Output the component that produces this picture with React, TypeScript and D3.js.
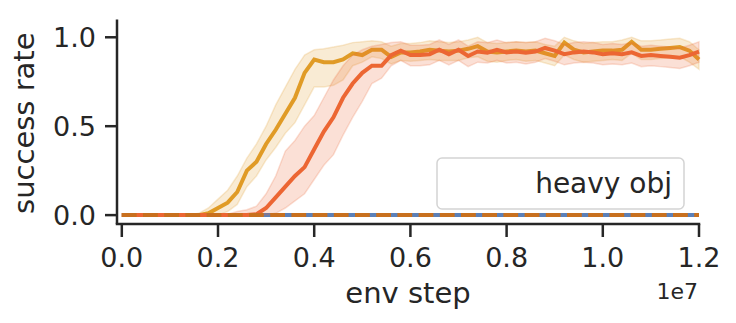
import React from "react";
import * as d3 from "d3";

// env steps in units of 1e6, one sample every 0.2e6
const steps = d3.range(61).map((i) => i * 0.2);

const goldMean = [
  0, 0, 0, 0, 0, 0, 0, 0, 0, 0.01, 0.04, 0.07, 0.13, 0.25, 0.3, 0.4, 0.48, 0.57, 0.66, 0.8,
  0.875, 0.86, 0.86, 0.875, 0.91, 0.9, 0.93, 0.93, 0.89, 0.915, 0.915, 0.92, 0.93, 0.925, 0.92, 0.925, 0.935, 0.95, 0.92, 0.915,
  0.92, 0.925, 0.92, 0.925, 0.91, 0.895, 0.97, 0.93, 0.915, 0.92, 0.925, 0.925, 0.93, 0.975, 0.93, 0.93, 0.935, 0.94, 0.945, 0.925,
  0.875,
];
const goldLo = [
  0, 0, 0, 0, 0, 0, 0, 0, 0, 0, 0, 0.02, 0.06, 0.16, 0.22, 0.31, 0.38, 0.46, 0.52, 0.62,
  0.72, 0.72, 0.73, 0.76, 0.84, 0.86, 0.89, 0.88, 0.85, 0.87, 0.865, 0.87, 0.875, 0.87, 0.87, 0.87, 0.885, 0.89, 0.865, 0.86,
  0.87, 0.875, 0.865, 0.87, 0.855, 0.84, 0.9, 0.875, 0.86, 0.865, 0.87, 0.875, 0.87, 0.91, 0.875, 0.875, 0.88, 0.885, 0.89, 0.86,
  0.82,
];
const goldHi = [
  0, 0, 0, 0, 0, 0, 0, 0, 0.01, 0.04, 0.09, 0.14, 0.22, 0.32, 0.4, 0.5, 0.62, 0.72, 0.82, 0.9,
  0.93, 0.935, 0.945, 0.955, 0.97, 0.975, 0.98, 0.975, 0.95, 0.965, 0.965, 0.97, 0.98, 0.975, 0.97, 0.975, 0.985, 1.0, 0.97, 0.965,
  0.97, 0.975, 0.97, 0.975, 0.96, 0.95, 1.0, 0.98, 0.965, 0.97, 0.975, 0.975, 0.985, 1.0, 0.98, 0.98, 0.985, 0.99, 0.995, 0.975,
  0.93,
];

const redMean = [
  0, 0, 0, 0, 0, 0, 0, 0, 0, 0, 0, 0, 0, 0, 0.005, 0.04, 0.1, 0.16, 0.22, 0.27,
  0.37, 0.47, 0.55, 0.66, 0.74, 0.8, 0.84, 0.84, 0.9, 0.925, 0.9, 0.9, 0.905, 0.93, 0.905, 0.93, 0.895, 0.92, 0.913, 0.93,
  0.915, 0.92, 0.913, 0.92, 0.94, 0.925, 0.905, 0.915, 0.92, 0.915, 0.905, 0.91, 0.905, 0.915, 0.895, 0.9, 0.895, 0.89, 0.885, 0.9,
  0.92,
];
const redLo = [
  0, 0, 0, 0, 0, 0, 0, 0, 0, 0, 0, 0, 0, 0, 0, 0, 0.01, 0.04, 0.08, 0.12,
  0.2, 0.28, 0.34, 0.45, 0.55, 0.64, 0.74, 0.77, 0.84, 0.87, 0.84, 0.84, 0.845, 0.87, 0.845, 0.87, 0.835, 0.86, 0.855, 0.87,
  0.855, 0.86, 0.85, 0.86, 0.88, 0.865, 0.845, 0.855, 0.86, 0.855, 0.845, 0.85, 0.845, 0.855, 0.835, 0.84, 0.835, 0.83, 0.825, 0.84,
  0.86,
];
const redHi = [
  0, 0, 0, 0, 0, 0, 0, 0, 0, 0, 0, 0.005, 0.02, 0.03, 0.05, 0.12, 0.22, 0.36, 0.42, 0.5,
  0.56, 0.66, 0.76, 0.84, 0.9, 0.93, 0.95, 0.96, 0.97, 0.975, 0.955, 0.955, 0.96, 0.985, 0.96, 0.985, 0.95, 0.975, 0.97, 0.985,
  0.97, 0.975, 0.97, 0.975, 0.995, 0.98, 0.96, 0.97, 0.975, 0.97, 0.96, 0.965, 0.96, 0.97, 0.95, 0.955, 0.95, 0.945, 0.94, 0.955,
  0.975,
];

// the two runs that never succeed
const blueMean = [
  0, 0, 0, 0, 0, 0, 0, 0, 0, 0, 0, 0, 0, 0, 0, 0, 0, 0, 0, 0, 0, 0, 0, 0, 0, 0, 0, 0, 0, 0, 0,
  0, 0, 0, 0, 0, 0, 0, 0, 0, 0, 0, 0, 0, 0, 0, 0, 0, 0, 0, 0, 0, 0, 0, 0, 0, 0, 0, 0, 0, 0,
];
const brownMean = [
  0, 0, 0, 0, 0, 0, 0, 0, 0, 0, 0, 0, 0, 0, 0, 0, 0, 0, 0, 0, 0, 0, 0, 0, 0, 0, 0, 0, 0, 0, 0,
  0, 0, 0, 0, 0, 0, 0, 0, 0, 0, 0, 0, 0, 0, 0, 0, 0, 0, 0, 0, 0, 0, 0, 0, 0, 0, 0, 0, 0, 0,
];

const xTicks = [0, 2, 4, 6, 8, 10, 12];
const yTicks = [0, 0.5, 1.0];
const legendLabel = "heavy obj";

const INK = "#262626";
const GOLD = "#e09b26";
const RED = "#ec6633";
const BLUE = "#5b80b8";
const BROWN = "#c8701e";
const FONT = "DejaVu Sans, sans-serif";

export default function App() {
  const x = d3.scaleLinear().domain([-0.1, 12]).range([117, 699]);
  const y = d3.scaleLinear().domain([-0.05, 1.1]).range([224, 19.5]);

  const line = (vals: number[]) =>
    d3.line<number>().x((_, i) => x(steps[i])).y((v) => y(v))(vals) || "";
  const band = (lo: number[], hi: number[]) =>
    d3
      .area<number>()
      .x((_, i) => x(steps[i]))
      .y0((_, i) => y(lo[i]))
      .y1((_, i) => y(hi[i]))(lo.map((_, i) => i)) || "";

  return (
    <svg
      width={736}
      height={323}
      style={{ position: "absolute", left: 0, top: 0, background: "white" }}
      fontFamily={FONT}
    >
      {/* runs */}
      <path d={line(blueMean)} fill="none" stroke={BLUE} strokeWidth={4} />
      <path d={band(goldLo, goldHi)} fill={GOLD} fillOpacity={0.2} stroke={GOLD} strokeOpacity={0.2} strokeWidth={1.5} />
      <path d={line(goldMean)} fill="none" stroke={GOLD} strokeWidth={4} />
      <path d={band(redLo, redHi)} fill={RED} fillOpacity={0.2} stroke={RED} strokeOpacity={0.2} strokeWidth={1.5} />
      <path d={line(redMean)} fill="none" stroke={RED} strokeWidth={4} />
      <path d={line(brownMean)} fill="none" stroke={BROWN} strokeWidth={4} strokeDasharray="14.8 6.4" />

      {/* spines */}
      <line x1={117} x2={117} y1={19.5} y2={224} stroke={INK} strokeWidth={2.5} />
      <line x1={117} x2={699} y1={224} y2={224} stroke={INK} strokeWidth={2.5} strokeLinecap="square" />

      {/* y axis */}
      {yTicks.map((t) => (
        <g key={"y" + t}>
          <line x1={105} x2={117} y1={y(t)} y2={y(t)} stroke={INK} strokeWidth={2.5} />
          <text x={96} y={y(t)} dy="0.36em" textAnchor="end" fontSize={27} fill={INK}>
            {d3.format(".1f")(t)}
          </text>
        </g>
      ))}
      <text
        transform={`translate(34,${y(0.5) - 3}) rotate(-90)`}
        textAnchor="middle"
        fontSize={29}
        fill={INK}
      >
        success rate
      </text>

      {/* x axis */}
      {xTicks.map((t) => (
        <g key={"x" + t}>
          <line x1={x(t)} x2={x(t)} y1={224} y2={237} stroke={INK} strokeWidth={2.5} />
          <text x={x(t)} y={267} textAnchor="middle" fontSize={27} fill={INK}>
            {d3.format(".1f")(t / 10)}
          </text>
        </g>
      ))}
      <text x={408} y={303} textAnchor="middle" fontSize={29} fill={INK}>
        env step
      </text>
      <text x={698} y={299} textAnchor="end" fontSize={22} fill={INK}>
        1e7
      </text>

      {/* legend */}
      <rect x={437} y={158} width={247} height={51} rx={5} fill="white" fillOpacity={0.8} stroke="#d4d4d4" strokeWidth={1.5} />
      <text x={672} y={193} textAnchor="end" fontSize={28} fill={INK}>
        {legendLabel}
      </text>
    </svg>
  );
}
